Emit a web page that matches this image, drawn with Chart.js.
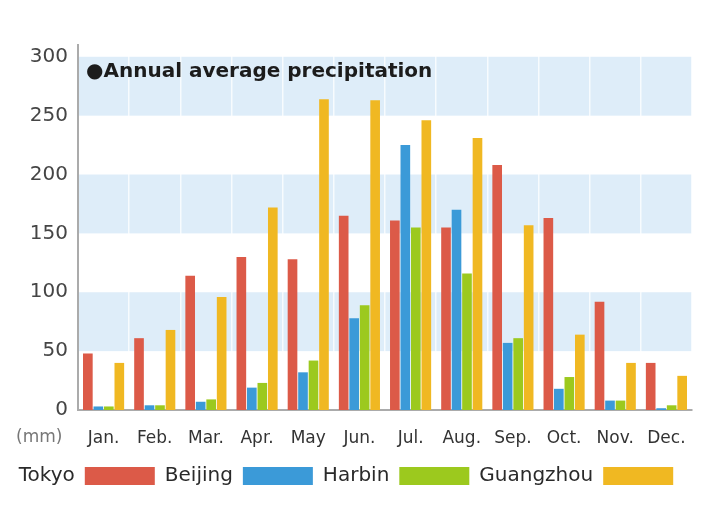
<!DOCTYPE html>
<html>
<head>
<meta charset="utf-8">
<script src="https://cdn.jsdelivr.net/npm/chart.js@4/dist/chart.umd.min.js"></script>
<style>
  html, body { margin: 0; padding: 0; background: #fff; }
  #wrap { width: 727px; height: 508px; position: relative; }
</style>
</head>
<body>
<div id="wrap"><canvas id="c" width="727" height="508"></canvas></div>
<script>
// ---- data ----
const months = ["Jan.", "Feb.", "Mar.", "Apr.", "May", "Jun.", "Jul.", "Aug.", "Sep.", "Oct.", "Nov.", "Dec."];
const cities = ["Tokyo", "Beijing", "Harbin", "Guangzhou"];
const tokyo     = [48, 61, 114, 130, 128, 165, 161, 155, 208, 163, 92, 40];
const beijing   = [3, 4, 7, 19, 32, 78, 225, 170, 57, 18, 8, 1.5];
const harbin    = [3, 4, 9, 23, 42, 89, 155, 116, 61, 28, 8, 4];
const guangzhou = [40, 68, 96, 172, 264, 263, 246, 231, 157, 64, 40, 29];
const yTicks = [0, 50, 100, 150, 200, 250, 300];
const bandRanges = [[50, 100], [150, 200], [250, 300]];
const chartTitle = "\u25CFAnnual average precipitation";
const unitLabel = "(mm)";

const colors = ["#dc5a48", "#3b9ad8", "#9cc91e", "#f0b822"];
const seriesData = [tokyo, beijing, harbin, guangzhou];

const bandsPlugin = {
  id: "bands",
  beforeDraw(chart) {
    const { ctx, chartArea, scales } = chart;
    const y = scales.y;
    ctx.save();
    ctx.fillStyle = "#deedf9";
    bandRanges.forEach(([a, b]) => {
      const top = y.getPixelForValue(b);
      const bot = y.getPixelForValue(a);
      ctx.fillRect(chartArea.left, top, chartArea.right - chartArea.left, bot - top);
    });
    ctx.restore();
  },
  afterDraw(chart) {
    const { ctx, chartArea, scales } = chart;
    ctx.save();
    ctx.fillStyle = "#1c1c1c";
    ctx.font = "bold 20px 'DejaVu Sans', sans-serif";
    ctx.textBaseline = "middle";
    ctx.textAlign = "left";
    ctx.fillText(chartTitle, chartArea.left + 8, scales.y.getPixelForValue(287));
    ctx.fillStyle = "#777";
    ctx.font = "17px 'DejaVu Sans', sans-serif";
    ctx.fillText(unitLabel, 16, chartArea.bottom + 28);
    ctx.restore();
  }
};

new Chart(document.getElementById("c"), {
  type: "bar",
  data: {
    labels: months,
    datasets: cities.map((name, i) => ({
      label: name,
      data: seriesData[i],
      backgroundColor: colors[i],
      borderWidth: 0,
      categoryPercentage: 0.82,
      barPercentage: 0.92
    }))
  },
  options: {
    responsive: false,
    animation: false,
    devicePixelRatio: 1,
    layout: { padding: { top: 45, right: 35, left: 0, bottom: 12 } },
    plugins: {
      tooltip: { enabled: false },
      title: { display: false },
      legend: {
        position: "bottom",
        rtl: true,
        reverse: true,
        labels: {
          boxWidth: 70,
          boxHeight: 18,
          padding: 10,
          color: "#2a2a2a",
          font: { family: "'DejaVu Sans', sans-serif", size: 20 }
        }
      }
    },
    scales: {
      x: {
        offset: true,
        grid: {
          offset: true,
          drawTicks: false,
          lineWidth: 1.5,
          color: (c) => (c.index === 0 || c.index === months.length) ? "rgba(0,0,0,0)" : "rgba(255,255,255,0.75)"
        },
        border: { display: true, color: "#ababab", width: 2 },
        ticks: {
          autoSkip: false,
          maxRotation: 0,
          padding: 18,
          color: "#333",
          font: { family: "'DejaVu Sans', sans-serif", size: 17 }
        },
        afterFit(scale) { scale.height = 46; }
      },
      y: {
        min: 0,
        max: 310,
        grid: { display: false, drawTicks: false },
        border: { display: true, color: "#ababab", width: 2 },
        ticks: {
          stepSize: 50,
          padding: 10,
          color: "#454545",
          font: { family: "'DejaVu Sans', sans-serif", size: 20 }
        },
        afterBuildTicks(axis) {
          axis.ticks = yTicks.map(v => ({ value: v }));
        },
        afterFit(scale) { scale.width = 78; }
      }
    }
  },
  plugins: [bandsPlugin]
});
</script>
</body>
</html>
